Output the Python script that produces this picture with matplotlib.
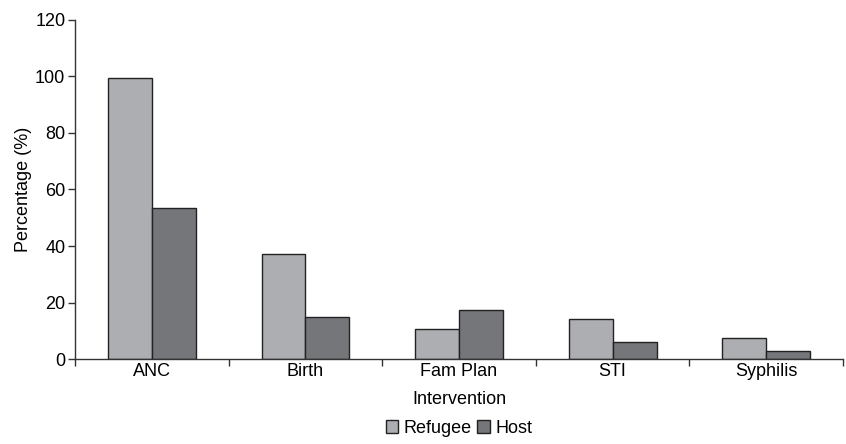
import matplotlib
matplotlib.use("Agg")
import matplotlib.pyplot as plt
import numpy as np
from matplotlib.ticker import FixedLocator, NullFormatter

categories = ["ANC", "Birth", "Fam Plan", "STI", "Syphilis"]
refugee = [99.5, 37.3, 10.5, 14.3, 7.4]
host = [53.5, 14.8, 17.4, 6.2, 3.0]
yticks = [0, 20, 40, 60, 80, 100, 120]

plt.rcParams['font.family'] = ['Liberation Sans', 'DejaVu Sans']

fig = plt.figure(figsize=(8.46, 4.44), dpi=100)
ax = fig.add_axes([0.0887, 0.1914, 0.9078, 0.7636])

x = np.arange(len(categories))
w = 0.286
ax.bar(x - w/2, refugee, w, color="#adaeb2", edgecolor="#222222", linewidth=1.0, label="Refugee")
ax.bar(x + w/2, host, w, color="#75767a", edgecolor="#222222", linewidth=1.0, label="Host")

fs = 13
ax.set_xlim(-0.5, len(categories) - 0.5)
ax.set_ylim(0, 120)
ax.set_yticks(yticks)
ax.set_xticks(x)
ax.set_xticklabels(categories, fontsize=fs)
ax.tick_params(axis='x', which='major', length=0, pad=3)
ax.xaxis.set_minor_locator(FixedLocator(np.arange(len(categories) + 1) - 0.5))
ax.xaxis.set_minor_formatter(NullFormatter())
ax.tick_params(axis='x', which='minor', length=5, width=1, color="#333333", direction='out')
ax.tick_params(axis='y', length=5, width=1, color="#333333", labelsize=fs, pad=2)
for s in ['top', 'right']:
    ax.spines[s].set_visible(False)
for s in ['left', 'bottom']:
    ax.spines[s].set_color("#333333")
    ax.spines[s].set_linewidth(1.0)

ax.set_ylabel("Percentage (%)", fontsize=fs, labelpad=2)
ax.set_xlabel("Intervention", fontsize=fs, labelpad=8)

ax.legend(loc='center', bbox_to_anchor=(0.5, -0.205), ncol=2, frameon=False,
          fontsize=fs, handlelength=0.7, handleheight=0.7, handletextpad=0.3,
          columnspacing=0.3, borderpad=0)

fig.savefig("out.png", dpi=100)
